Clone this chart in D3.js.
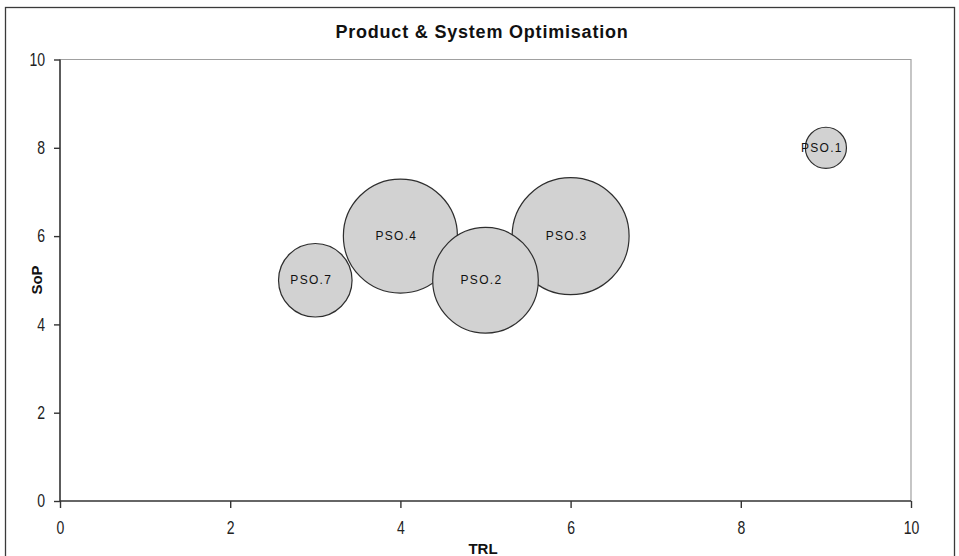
<!DOCTYPE html>
<html>
<head>
<meta charset="utf-8">
<script src="https://cdn.jsdelivr.net/npm/d3@7"></script>
<style>
  html, body { margin: 0; padding: 0; background: #fff; }
  svg { display: block; font-family: "Liberation Sans", Arial, sans-serif; }
</style>
</head>
<body>
<svg id="chart" width="959" height="556"></svg>
<script>
// ---- data ----
const labels = ["PSO.1", "PSO.2", "PSO.3", "PSO.4", "PSO.7"];
const trl    = [9, 5, 6, 4, 3];
const sop    = [8, 5, 6, 6, 5];
const sizes  = [1, 6.6, 8.1, 7.7, 3.2];
const xTicks = [0, 2, 4, 6, 8, 10];
const yTicks = [0, 2, 4, 6, 8, 10];
const title = "Product & System Optimisation";
const xTitle = "TRL";
const yTitle = "SoP";

const svg = d3.select("#chart");
const plot = { left: 60, right: 911, top: 59.5, bottom: 501 };
const squeeze = 0.78;

// outer frame
svg.append("rect")
  .attr("x", 5.5).attr("y", 7.5)
  .attr("width", 949).attr("height", 560)
  .attr("fill", "#fff").attr("stroke", "#3a3a3a").attr("stroke-width", 1.3);

const x = d3.scaleLinear().domain([0, 10]).range([plot.left, plot.right]);
const y = d3.scaleLinear().domain([0, 10]).range([plot.bottom, plot.top]);
const r = d3.scaleSqrt().domain([0, d3.max(sizes)]).range([0, 58.5]);

// plot area border (top/right grey)
svg.append("path")
  .attr("d", `M${plot.left},${plot.top}H${plot.right}V${plot.bottom}`)
  .attr("fill", "none").attr("stroke", "#a0a0a0").attr("stroke-width", 1.2);

// axes
const xAxis = d3.axisBottom(x).tickValues(xTicks).tickSize(7).tickPadding(13).tickFormat(d3.format("d"));
const yAxis = d3.axisLeft(y).tickValues(yTicks).tickSize(6).tickPadding(10).tickFormat(d3.format("d"));

const gx = svg.append("g").attr("transform", `translate(0,${plot.bottom})`).call(xAxis);
const gy = svg.append("g").attr("transform", `translate(${plot.left},0)`).call(yAxis);
[gx, gy].forEach(g => {
  g.select(".domain").attr("stroke", "#333").attr("stroke-width", 1.6);
  g.selectAll(".tick line").attr("stroke", "#333").attr("stroke-width", 1.4);
  g.selectAll(".tick text").attr("fill", "#222").style("font-size", "18px")
    .attr("transform", `scale(${squeeze},1)`);
});
gy.selectAll(".tick text").attr("x", -15 / squeeze);
gx.select(".domain").attr("d", `M${plot.left},0H${plot.right}`);
gy.select(".domain").attr("d", `M0,${plot.bottom}V${plot.top}`);

// bubbles
const data = labels.map((l, i) => ({ label: l, x: trl[i], y: sop[i], s: sizes[i] }));
const drawOrder = ["PSO.1", "PSO.7", "PSO.4", "PSO.3", "PSO.2"].map(l => data.find(d => d.label === l));
svg.append("g").selectAll("circle").data(drawOrder).join("circle")
  .attr("cx", d => x(d.x)).attr("cy", d => y(d.y)).attr("r", d => r(d.s))
  .attr("fill", "#d2d2d2").attr("stroke", "#2e2e2e").attr("stroke-width", 1.2);

svg.append("g").selectAll("text").data(data).join("text")
  .attr("x", d => x(d.x) - 4).attr("y", d => y(d.y))
  .attr("dy", "0.35em").attr("text-anchor", "middle")
  .style("font-size", "12px").style("letter-spacing", "1.3px").attr("fill", "#111")
  .text(d => d.label);

// titles
svg.append("text").attr("x", 482).attr("y", 38).attr("text-anchor", "middle")
  .style("font-size", "18px").style("font-weight", "bold").style("letter-spacing", "0.8px").attr("fill", "#111")
  .text(title);
svg.append("text").attr("x", 483).attr("y", 554).attr("text-anchor", "middle")
  .style("font-size", "15px").style("font-weight", "bold").attr("fill", "#111")
  .text(xTitle);
svg.append("text").attr("transform", `translate(42,280) rotate(-90)`).attr("text-anchor", "middle")
  .style("font-size", "15px").style("font-weight", "bold").attr("fill", "#111")
  .text(yTitle);
</script>
</body>
</html>
